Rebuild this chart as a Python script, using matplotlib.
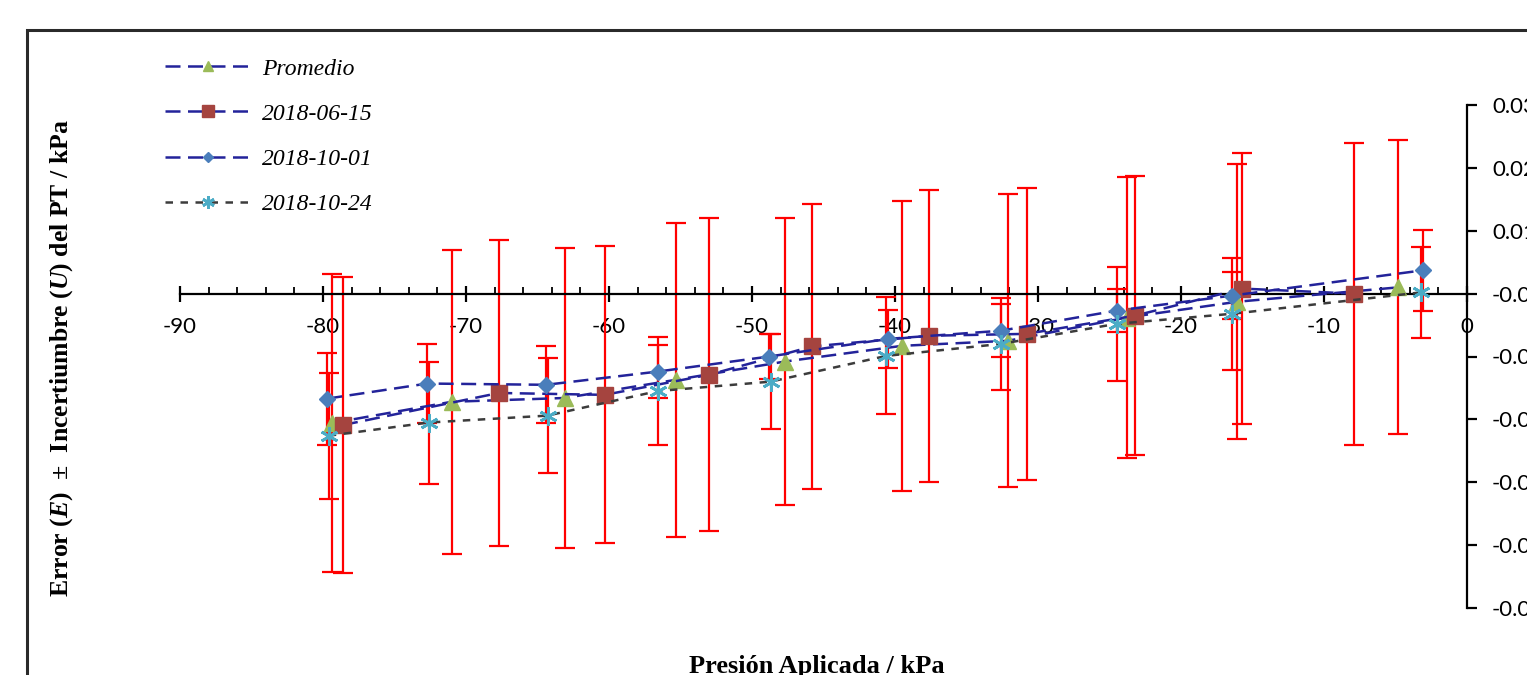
import matplotlib
matplotlib.use("Agg")
import matplotlib.pyplot as plt
from matplotlib.patches import Rectangle
from matplotlib.ticker import MultipleLocator

plt.rcParams['axes.unicode_minus'] = False
plt.rcParams['mathtext.fontset'] = 'custom'
plt.rcParams['mathtext.rm'] = 'Liberation Serif:bold'
plt.rcParams['mathtext.it'] = 'Liberation Serif:italic:bold'
plt.rcParams['mathtext.bf'] = 'Liberation Serif:bold'

# Data (pressure in kPa, error / uncertainty in kPa)
prom_x = [-79.4, -71.0, -63.1, -55.3, -47.7, -39.5, -32.1, -23.8, -16.1, -4.8]
prom_y = [-0.0206, -0.0172, -0.0166, -0.0137, -0.0108, -0.0083, -0.0075, -0.0038, -0.0013, 0.0010]
prom_u = [0.0237, 0.0242, 0.0238, 0.0250, 0.0228, 0.0231, 0.0233, 0.0223, 0.0219, 0.0234]

jun_x = [-78.6, -67.7, -60.3, -53.0, -45.8, -37.6, -30.8, -23.2, -15.7, -7.9]
jun_y = [-0.0209, -0.0158, -0.0161, -0.0129, -0.0084, -0.0067, -0.0064, -0.0035, 0.0008, 0.0000]
jun_u = [0.0235, 0.0244, 0.0236, 0.0249, 0.0226, 0.0232, 0.0232, 0.0222, 0.0216, 0.0240]

oct1_x = [-79.7, -72.7, -64.4, -56.6, -48.8, -40.5, -32.6, -24.5, -16.4, -3.1]
oct1_y = [-0.0167, -0.0143, -0.0145, -0.0124, -0.0100, -0.0072, -0.0059, -0.0027, -0.0003, 0.0037]
oct1_u = [0.0073, 0.0063, 0.0061, 0.0042, 0.0035, 0.0046, 0.0042, 0.0034, 0.0037, 0.0064]

oct24_x = [-79.6, -72.6, -64.3, -56.6, -48.7, -40.6, -32.6, -24.5, -16.4, -3.2]
oct24_y = [-0.0226, -0.0205, -0.0194, -0.0155, -0.0140, -0.0099, -0.0080, -0.0048, -0.0032, 0.0002]
oct24_u = [0.0100, 0.0097, 0.0092, 0.0086, 0.0076, 0.0093, 0.0073, 0.0091, 0.0089, 0.0072]

labels = ['Promedio', '2018-06-15', '2018-10-01', '2018-10-24']

NAVY = '#23239a'
DARK = '#3c3c3c'
RED = '#ff0000'

fig = plt.figure(figsize=(15.27, 6.75), dpi=100)
ax = fig.add_axes([180 / 1527, 67 / 675, 1287 / 1527, 503 / 675])

# outer chart border (cut by the picture edges)
fig.patches.append(Rectangle((27 / 1527, -0.2), 1.2, 0.2 + 645 / 675,
                             transform=fig.transFigure, fill=False,
                             edgecolor='#2a2a2a', linewidth=2.2, zorder=0))

series = [
    (prom_x, prom_y, prom_u, dict(color=NAVY, ls=(0, (6, 3)), marker='^', ms=11,
                                  mfc='#9bbb59', mec='#9bbb59')),
    (jun_x, jun_y, jun_u, dict(color=NAVY, ls=(0, (6, 3)), marker='s', ms=12,
                               mfc='#a5443f', mec='#a5443f')),
    (oct1_x, oct1_y, oct1_u, dict(color=NAVY, ls=(0, (6, 3)), marker='D', ms=8,
                                  mfc='#4a7ebb', mec='#4a7ebb')),
    (oct24_x, oct24_y, oct24_u, dict(color=DARK, ls=(0, (3, 3)), marker=(6, 2, 0), ms=13,
                                     mfc='#4bacc6', mec='#4bacc6', mew=2)),
]

for (x, y, u, style), lab in zip(series, labels):
    ax.errorbar(x, y, yerr=u, fmt='none', ecolor=RED, elinewidth=1.6,
                capsize=7, capthick=1.6, zorder=2)
    ax.plot(x, y, lw=1.8, label=lab, zorder=3, **style)

ax.set_xlim(-90, 0)
ax.set_ylim(-0.05, 0.03)

ax.spines['top'].set_visible(False)
ax.spines['left'].set_visible(False)
ax.spines['bottom'].set_position(('data', 0))
ax.spines['bottom'].set_linewidth(1.6)
ax.spines['right'].set_linewidth(1.6)

ax.xaxis.set_major_locator(MultipleLocator(10))
ax.xaxis.set_minor_locator(MultipleLocator(2))
ax.yaxis.set_major_locator(MultipleLocator(0.01))
ax.yaxis.tick_right()
ax.yaxis.set_major_formatter(plt.FormatStrFormatter('%.2f'))

ax.tick_params(axis='x', which='major', direction='inout', length=12, width=1.6,
               pad=11, labelsize=16)
ax.tick_params(axis='x', which='minor', direction='in', length=5, width=1.3)
ax.tick_params(axis='y', which='major', direction='out', length=7, width=1.6,
               pad=11, labelsize=16)
for lbl in ax.get_xticklabels() + ax.get_yticklabels():
    lbl.set_family('Lato')

leg = ax.legend(loc='upper left', bbox_to_anchor=(165 / 1527, 617 / 675),
                bbox_transform=fig.transFigure, frameon=False,
                prop={'family': 'Liberation Serif', 'style': 'italic', 'size': 17},
                handlelength=3.6, handletextpad=0.5, labelspacing=1.0,
                markerscale=0.7, numpoints=1, borderpad=0, borderaxespad=0)

fig.text(817 / 1527, 20 / 675, 'Presión Aplicada / kPa', ha='center', va='top',
         family='Liberation Serif', weight='bold', fontsize=19)
fig.text(62 / 1527, 317 / 675, r'Error $(E)$  ±  Incertiumbre $(U)$ del PT / kPa',
         rotation=90, ha='center', va='center', family='Liberation Serif',
         weight='bold', fontsize=18.5)

fig.savefig('out.png', dpi=100)
